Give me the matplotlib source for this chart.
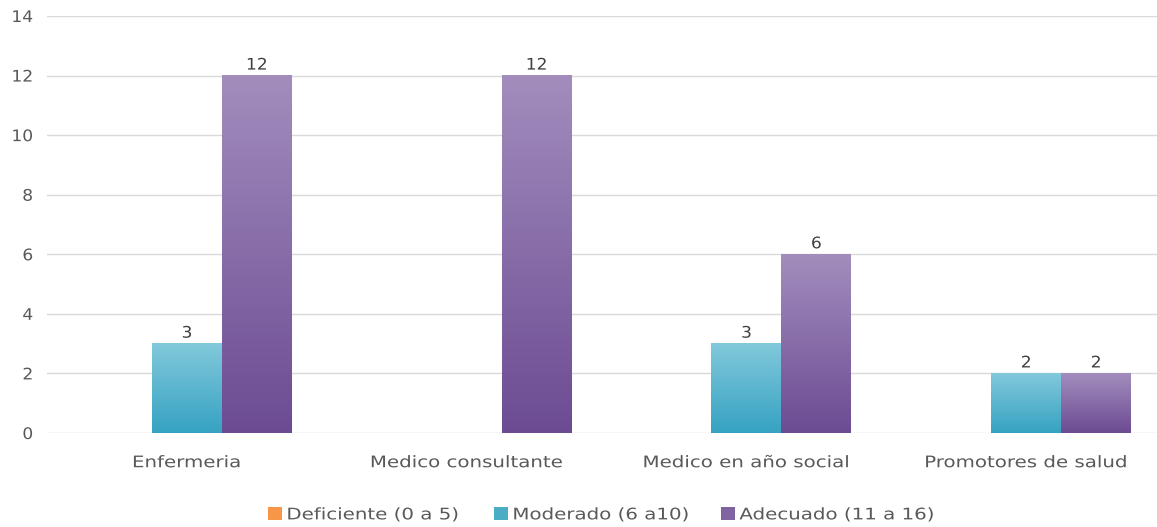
import numpy as np
import matplotlib
matplotlib.use('Agg')
import matplotlib.pyplot as plt
from matplotlib.colors import LinearSegmentedColormap
from matplotlib.patches import Patch
from matplotlib.patheffects import AbstractPathEffect
from matplotlib.transforms import Affine2D

# Data
categories = ['Enfermeria', 'Medico consultante', 'Medico en año social', 'Promotores de salud']
series_names = ['Deficiente (0 a 5)', 'Moderado (6 a10)', 'Adecuado (11 a 16)']
deficiente = [0, 0, 0, 0]
moderado = [3, 0, 3, 2]
adecuado = [12, 12, 6, 2]
y_ticks = [0, 2, 4, 6, 8, 10, 12, 14]

# Colours (top, bottom of gradient)
grad_colors = [('#f9a86a', '#f38a2e'), ('#82c9db', '#36a2c2'), ('#a28dbd', '#6c4b93')]
legend_colors = ['#f79646', '#4bacc6', '#8064a2']


class HStretch(AbstractPathEffect):
    # widen text horizontally (the reference font is wider than any installed one)
    def __init__(self, sx, anchor='center'):
        super().__init__()
        self.sx = sx
        self.anchor = anchor

    def draw_path(self, renderer, gc, tpath, affine, rgbFace=None):
        v = tpath.vertices
        xmin, xmax = (v[:, 0].min(), v[:, 0].max()) if len(v) else (0, 0)
        c = {'center': (xmin + xmax) / 2, 'left': xmin, 'right': xmax}[self.anchor]
        t = Affine2D().translate(-c, 0).scale(self.sx, 1).translate(c, 0) + affine
        renderer.draw_path(gc, tpath, t, rgbFace)


plt.rcParams['font.family'] = ['DejaVu Sans']
FS = 11.5
SX = 1.24

fig = plt.figure(figsize=(11.57, 5.27), dpi=100)
ax = fig.add_axes([47 / 1157, 94 / 527, 1119 / 1157, 417 / 527])

x = np.arange(len(categories))
width = 0.25
all_series = [deficiente, moderado, adecuado]

grad = np.linspace(0, 1, 256).reshape(-1, 1)
for i, vals in enumerate(all_series):
    offset = (i - 1) * width
    bars = ax.bar(x + offset, vals, width, color='none', edgecolor='none', zorder=3)
    cmap = LinearSegmentedColormap.from_list(f'g{i}', [grad_colors[i][1], grad_colors[i][0]])
    for bar, v in zip(bars, vals):
        if v <= 0:
            continue
        bx, bw, bh = bar.get_x(), bar.get_width(), bar.get_height()
        ax.imshow(grad, extent=[bx, bx + bw, 0, bh], origin='lower', aspect='auto',
                  cmap=cmap, zorder=3, interpolation='bicubic')
        ax.text(bx + bw / 2, bh + 0.1, str(v), ha='center', va='bottom',
                fontsize=FS, color='#404040', zorder=4,
                path_effects=[HStretch(1.07)])

ax.set_xlim(-0.5, len(categories) - 0.5)
ax.set_ylim(0, 14)
ax.set_yticks(y_ticks)
ax.set_xticks(x)
ax.set_xticklabels(categories)
ax.grid(axis='y', color='#d9d9d9', linewidth=1.0, zorder=0)
ax.set_axisbelow(True)
for s in ax.spines.values():
    s.set_visible(False)
ax.tick_params(axis='both', length=0, labelsize=FS, colors='#595959')
ax.tick_params(axis='y', pad=10)
ax.tick_params(axis='x', pad=16)
for lbl in ax.get_xticklabels():
    lbl.set_path_effects([HStretch(SX)])
for lbl in ax.get_yticklabels():
    lbl.set_path_effects([HStretch(1.07, 'right')])

# legend entries placed one by one (left edge of each swatch, in pixels)
legend_x = [268, 494, 721]
for name, col, lx in zip(series_names, legend_colors, legend_x):
    leg = fig.legend([Patch(facecolor=col, edgecolor='none')], [name], loc='center left',
                     bbox_to_anchor=(lx / 1157, 0.023), frameon=False, fontsize=FS,
                     handlelength=0.85, handleheight=0.85, handletextpad=0.3,
                     borderpad=0, borderaxespad=0, labelcolor='#595959')
    for t in leg.get_texts():
        t.set_path_effects([HStretch(SX, 'left')])

fig.savefig('out.png', dpi=100)
